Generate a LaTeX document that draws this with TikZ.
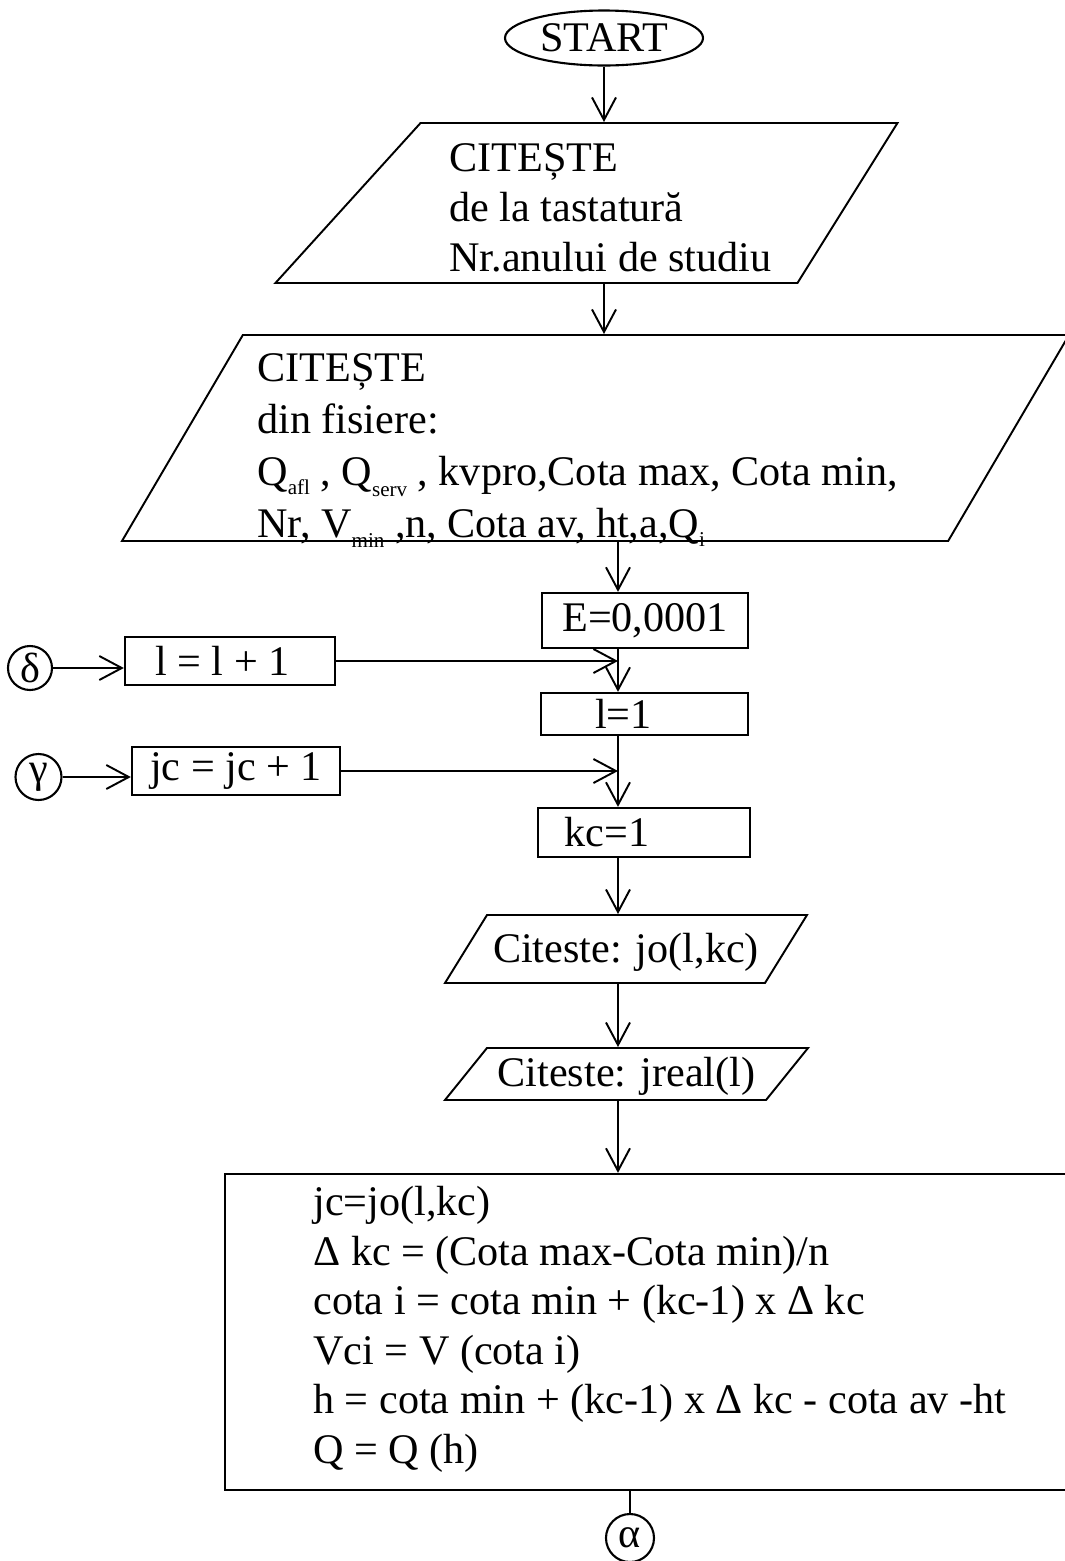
\documentclass[tikz,border=0pt]{standalone}
\usepackage{fontspec}
\setmainfont{Liberation Serif}
\usetikzlibrary{positioning, arrows.meta, shapes.geometric}

% small lowered index for the file variables
\newcommand{\subtxt}[2][-0.45ex]{\raisebox{#1}{\fontsize{12}{12}\selectfont #2}}

\begin{document}
\begin{tikzpicture}[
    every node/.style={font=\fontsize{24}{28.5}\selectfont},
    % Start terminal
    term/.style={
        ellipse,
        draw=black,
        line width=1.2pt,
        minimum width=3.96cm,
        minimum height=1.1cm,
        inner sep=0pt
    },
    % Connector circles
    conn/.style={
        circle,
        draw=black,
        line width=1.2pt,
        inner sep=0pt
    },
    % Read (input) parallelogram, slant set by text height
    iobox/.style={
        trapezium,
        draw=black,
        line width=1.1pt,
        trapezium stretches body,
        inner sep=0pt
    },
    % Process box
    procbox/.style={
        rectangle,
        draw=black,
        line width=1.3pt,
        inner sep=0pt
    },
    % Left aligned text inside the big shapes
    txtblock/.style={
        anchor=north west,
        align=left,
        inner sep=0pt
    },
    % Arrow style - open tip
    arrow/.style={
        -{Straight Barb[length=0.45cm, width=0.48cm]},
        line width=1.1pt
    }
]
\useasboundingbox (0,0) rectangle (21.3,-31.22);

% === Start ===
\node[term] (start) at (12.08,-0.76) {START};

% === Read year of study ===
\node[iobox, trapezium left angle=47.8, trapezium right angle=122,
      minimum width=12.44cm, text height=3.2cm, text depth=0pt] (in1) at (12.18,-4.06) {};
\node[txtblock] (in1txt) at (8.98,-2.86)
      {CITEȘTE\\de la tastatură\\Nr.anului de studiu};

% === Read input files ===
\node[iobox, trapezium left angle=59.6, trapezium right angle=120.4,
      minimum width=18.94cm, text height=4.12cm, text depth=0pt] (in2) at (11.91,-8.76) {};
\node[txtblock, font=\fontsize{24}{29.6}\selectfont] (in2txt) at (5.14,-7.06)
      {CITEȘTE\\din fisiere:\\
       Q\subtxt{afl} , Q\subtxt[-0.6ex]{serv} , kvpro,Cota max, Cota min,\\
       Nr, V\subtxt[-0.5ex]{min} ,n, Cota av, ht,a,Q\subtxt{i}};

% main flow line
\coordinate (flow) at (12.36,-11.9);

% === Initial values ===
\node[procbox, minimum width=4.12cm, minimum height=1.1cm] (eps) at (12.9,-12.41) {E=0,0001};
\node[procbox, minimum width=4.14cm, minimum height=0.84cm] (lone) at (12.89,-14.28) {l=1\hspace*{0.84cm}};
\node[procbox, minimum width=4.24cm, minimum height=0.98cm] (kc) at (12.88,-16.65) {kc=1\hspace*{1.48cm}};

% === Loop entries (left) ===
\node[conn, minimum size=0.88cm] (delta) at (0.6,-13.36) {δ};
\node[procbox, minimum width=4.2cm, minimum height=0.96cm] (incl) at (4.6,-13.22) {l = l + 1\hspace*{0.3cm}};
\node[conn, minimum size=0.92cm] (gamma) at (0.77,-15.54) {γ};
\node[procbox, minimum width=4.16cm, minimum height=0.96cm] (incj) at (4.72,-15.42) {jc = jc + 1};

% === Read jo and jreal ===
\node[iobox, trapezium left angle=58.3, trapezium right angle=121.7,
      minimum width=7.24cm, text height=0.94cm, text depth=0.42cm] (in3) at (12.52,-18.98) {Citeste: jo(l,kc)};
\node[iobox, trapezium left angle=51.1, trapezium right angle=128.9,
      minimum width=7.26cm, text height=0.76cm, text depth=0.28cm] (in4) at (12.53,-21.48) {Citeste: jreal(l)};

% === Computation block ===
\node[procbox, minimum width=17cm, minimum height=6.32cm] (calc) at (13.0,-26.64) {};
\node[txtblock, font=\fontsize{24}{28.2}\selectfont] (calctxt) at (6.26,-23.72)
      {jc=jo(l,kc)\\
       Δ kc = (Cota max-Cota min)/n\\
       cota i = cota min + (kc-1) x Δ kc\\
       Vci = V (cota i)\\
       h = cota min + (kc-1) x Δ kc - cota av -ht\\
       Q = Q (h)};

\node[conn, minimum size=0.96cm] (alpha) at (12.6,-30.76) {α};

% === Arrows down the main flow ===
\draw[arrow] (start.south) -- (start.south |- in1.north);
\draw[arrow] (start |- in1.south) -- (start |- in2.north);
\draw[arrow] (flow |- in2.south) -- (flow |- eps.north);
\draw[arrow] (flow |- eps.south) -- (flow |- lone.north);
\draw[arrow] (flow |- lone.south) -- (flow |- kc.north);
\draw[arrow] (flow |- kc.south) -- (flow |- in3.north);
\draw[arrow] (flow |- in3.south) -- (flow |- in4.north);
\draw[arrow] (flow |- in4.south) -- (flow |- calc.north);
\draw[line width=1.1pt] (alpha |- calc.south) -- (alpha.north);

% === Loop returns ===
\draw[arrow] (delta.east) -- (delta -| incl.west);
\draw[arrow] (incl.east) -- (incl.east -| flow);
\draw[arrow] (gamma.east) -- (gamma -| incj.west);
\draw[arrow] (incj.east) -- (incj.east -| flow);

\end{tikzpicture}
\end{document}
